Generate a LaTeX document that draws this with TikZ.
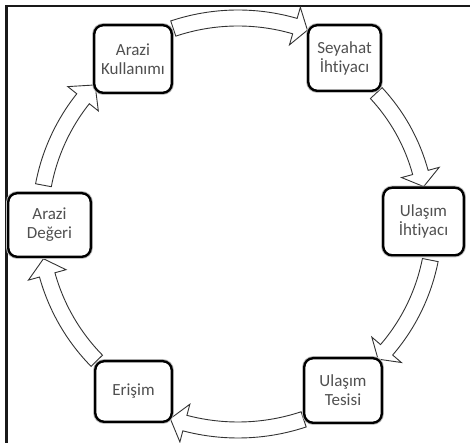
\documentclass[tikz,border=0pt]{standalone}
\usepackage{fontspec}
\setmainfont[Ligatures=NoCommon]{Carlito}
\usetikzlibrary{calc}
\definecolor{txtgray}{RGB}{80,80,80}
\tikzset{
  box/.style={draw=black, line width=2.4pt, rounded corners=9pt, fill=white,
    text=txtgray, align=center, font=\fontsize{17}{19}\selectfont, inner sep=0pt,
    preaction={draw=black!25, line width=4.2pt}},
  cyc/.style={draw=black!80, line width=0.9pt, fill=white, line join=miter},
  frameline/.style={draw=black!90, line width=#1},
}
% #1 tail angle, #2 head base angle, #3 tip angle, #4 radius
\newcommand{\cycarrow}[4]{%
  \pgfmathsetmacro\cyRo{#4+8}\pgfmathsetmacro\cyRi{#4-8}%
  \pgfmathsetmacro\cyHo{#4+19.5}\pgfmathsetmacro\cyHi{#4-19.5}%
  \draw[cyc] ([shift={(#1:\cyRo pt)}]C) arc[start angle=#1, end angle=#2, radius=\cyRo pt]
    -- ([shift={(#2:\cyHo pt)}]C) -- ([shift={(#3:#4 pt)}]C) -- ([shift={(#2:\cyHi pt)}]C)
    -- ([shift={(#2:\cyRi pt)}]C) arc[start angle=#2, end angle=#1, radius=\cyRi pt] -- cycle;}
\begin{document}
\begin{tikzpicture}[x=1pt, y=1pt]
  \useasboundingbox (0,0) rectangle (470,443);
  \fill[white] (0,0) rectangle (470,443);
  % frame
  \coordinate (TL) at (6.5,437);
  \coordinate (TR) at (470,437);
  \coordinate (BL) at (6.5,0);
  \draw[frameline=2.5pt] (5,437) -- (TR);
  \draw[frameline=3pt] (TL) -- (BL);
  % circle centre
  \coordinate (C) at (238,221);
  % arrows
  \cycarrow{108.5}{73.8}{70.1}{204}
  \cycarrow{43}{15.2}{10.8}{189}
  \cycarrow{-11.2}{-40.7}{-44.4}{196}
  \cycarrow{-71.6}{-104.8}{-109}{208}
  \cycarrow{224.5}{195.5}{190.7}{198}
  \cycarrow{169.3}{141.5}{136.2}{198}
  % nodes
  \node[box, minimum width=77.6pt, minimum height=67.6pt] (ak) at (133,384) {Arazi\\Kullanımı};
  \node[box, minimum width=72.6pt, minimum height=65.6pt] (si) at (344.5,385) {Seyahat\\İhtiyacı};
  \node[box, minimum width=80.6pt, minimum height=67.6pt] (ui) at (423.5,221.5) {Ulaşım\\İhtiyacı};
  \node[box, minimum width=82.6pt, minimum height=63.6pt] (ad) at (49.5,218) {Arazi\\Değeri};
  \node[box, minimum width=76.6pt, minimum height=60.6pt] (er) at (133.5,51.5) {Erişim};
  \node[box, minimum width=77.6pt, minimum height=64.6pt] (ut) at (343,52.5) {Ulaşım\\Tesisi};
\end{tikzpicture}
\end{document}
